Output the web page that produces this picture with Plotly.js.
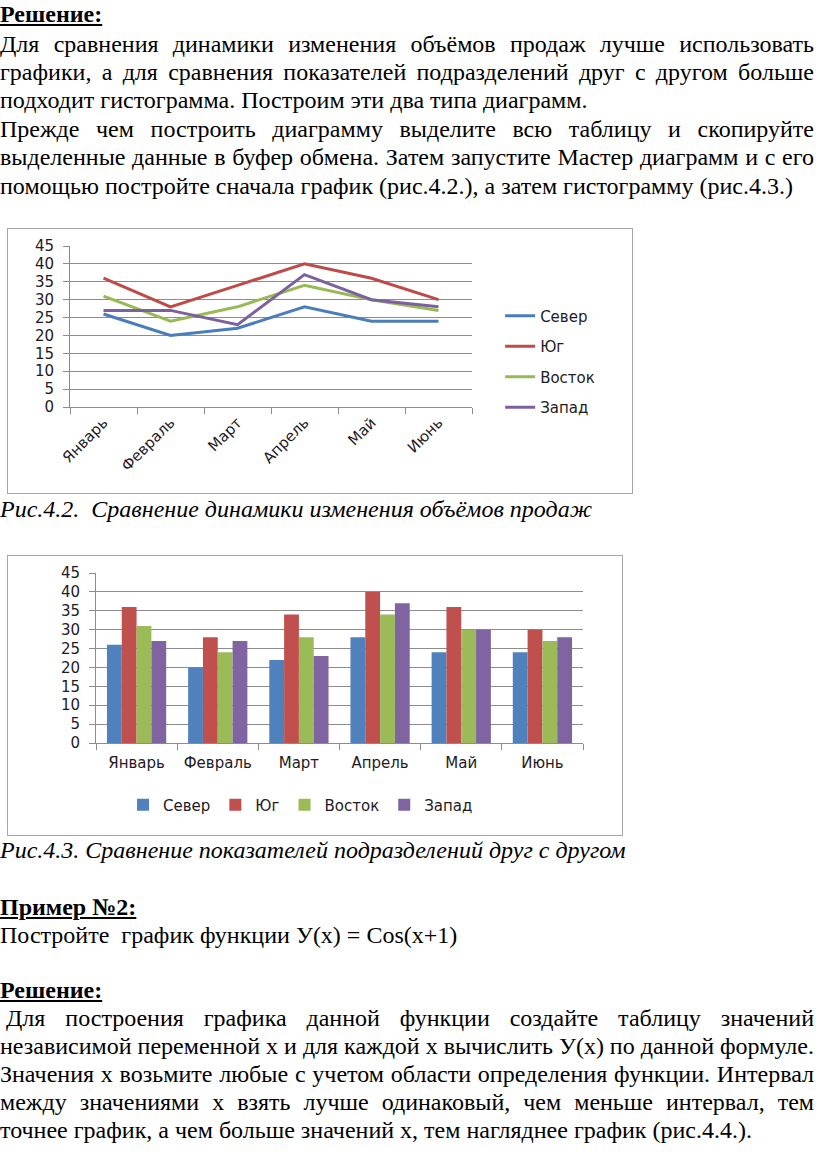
<!DOCTYPE html>
<html>
<head>
<meta charset="utf-8">
<script src="https://cdn.plot.ly/plotly-3.0.1.min.js"></script>
<style>
  html, body { margin: 0; padding: 0; background: #fff; }
  body { width: 816px; height: 1167px; position: relative; overflow: hidden; }
  .ln { position: absolute; left: 0; font-family: "Liberation Serif", "Times New Roman", serif;
        font-size: 24px; line-height: 28px; color: #000; white-space: nowrap; }
  .h { font-weight: bold; text-decoration: underline; }
  .cap { font-style: italic; }
  .frame { position: absolute; border: 1.5px solid #a6a6a6; background: #fff; }
</style>
</head>
<body>
<div id="text"></div>
<div id="chart1" class="frame" style="left:7px; top:228px; width:624px; height:264px;"></div>
<div id="chart2" class="frame" style="left:7px; top:555px; width:614px; height:279px;"></div>
<script>
// ---- chart data ----
const months = ["Январь", "Февраль", "Март", "Апрель", "Май", "Июнь"];
const seriesNames = ["Север", "Юг", "Восток", "Запад"];
const sever  = [26, 20, 22, 28, 24, 24];
const yug    = [36, 28, 34, 40, 36, 30];
const vostok = [31, 24, 28, 34, 30, 27];
const zapad  = [27, 27, 23, 37, 30, 28];
const yTicks = [0, 5, 10, 15, 20, 25, 30, 35, 40, 45];

// ---- page text ----
const lines = [
  {t: "Решение:", top: 0, cls: "h"},
  {t: "Для сравнения динамики изменения объёмов продаж лучше использовать", top: 30, j: true},
  {t: "графики, а для сравнения показателей подразделений друг с другом больше", top: 58, j: true},
  {t: "подходит гистограмма. Построим эти два типа диаграмм.", top: 86},
  {t: "Прежде чем построить диаграмму выделите всю таблицу и скопируйте", top: 115, j: true},
  {t: "выделенные данные в буфер обмена. Затем запустите Мастер диаграмм и с его", top: 143, j: true},
  {t: "помощью постройте сначала график (рис.4.2.), а затем гистограмму (рис.4.3.)", top: 172},
  {t: "Рис.4.2.\u00a0 Сравнение динамики изменения объёмов продаж", top: 495, cls: "cap"},
  {t: "Рис.4.3. Сравнение показателей подразделений друг с другом", top: 836, cls: "cap"},
  {t: "Пример №2:", top: 893, cls: "h"},
  {t: "Постройте\u00a0 график функции У(х) = Cos(x+1)", top: 921},
  {t: "Решение:", top: 976, cls: "h"},
  {t: "Для построения графика данной функции создайте таблицу значений", top: 1004, j: true, indent: 6},
  {t: "независимой переменной х и для каждой х вычислить У(х) по данной формуле.", top: 1032, j: true},
  {t: "Значения х возьмите любые с учетом области определения функции. Интервал", top: 1060, j: true},
  {t: "между значениями х взять лучше одинаковый, чем меньше интервал, тем", top: 1088, j: true},
  {t: "точнее график, а чем больше значений х, тем нагляднее график (рис.4.4.).", top: 1116}
];
const RIGHT = 814;
const textDiv = document.getElementById("text");
lines.forEach(l => {
  const d = document.createElement("div");
  d.className = "ln " + (l.cls || "");
  d.style.top = l.top + "px";
  const left = l.indent || 0;
  d.style.left = left + "px";
  d.textContent = l.t;
  textDiv.appendChild(d);
  if (l.j) {
    const w = d.getBoundingClientRect().width;
    const spaces = (l.t.match(/ /g) || []).length;
    const target = RIGHT - left;
    if (spaces > 0) d.style.wordSpacing = ((target - w) / spaces) + "px";
  }
});

// ---- charts ----
const colors = ["#4A7EBB", "#BE4B48", "#98B954", "#7D60A0"];
const barColors = ["#4F81BD", "#C0504D", "#9BBB59", "#8064A2"];
const data = [sever, yug, vostok, zapad];
const font = {family: "DejaVu Sans, Verdana, sans-serif", size: 15, color: "#1f1a24"};

const yaxis = {
  range: [0, 45], tickvals: yTicks, showgrid: true, gridcolor: "#8c8c8c", gridwidth: 1,
  showline: true, linecolor: "#8c8c8c", linewidth: 1, ticks: "outside", ticklen: 6,
  tickcolor: "#8c8c8c", zeroline: false, fixedrange: true, ticklabelstandoff: 6
};

const lineTraces = data.map((vals, i) => ({
  type: "scatter", mode: "lines", x: months, y: vals, name: seriesNames[i],
  line: {color: colors[i], width: 3}, legendgroup: "g" + i
}));

Plotly.newPlot("chart1", lineTraces, {
  width: 624, height: 264,
  margin: {l: 62, r: 160, t: 17, b: 86},
  paper_bgcolor: "#fff", plot_bgcolor: "#fff",
  font: font, showlegend: true,
  legend: {x: 1.07, xanchor: "left", y: 0.283, yanchor: "middle", traceorder: "grouped",
           tracegroupgap: 8, font: font, bgcolor: "rgba(0,0,0,0)"},
  xaxis: {type: "category", range: [-0.5, 5.5], tickangle: -45, showline: true, linecolor: "#8c8c8c",
          ticks: "outside", tickson: "boundaries", ticklen: 6, tickcolor: "#8c8c8c",
          showgrid: false, fixedrange: true},
  yaxis: yaxis
}, {staticPlot: true, displayModeBar: false});

const barTraces = data.map((vals, i) => ({
  type: "bar", x: months, y: vals, name: seriesNames[i],
  marker: {color: barColors[i]}
}));

Plotly.newPlot("chart2", barTraces, {
  width: 614, height: 279,
  margin: {l: 88, r: 39, t: 17, b: 92},
  paper_bgcolor: "#fff", plot_bgcolor: "#fff",
  font: font, showlegend: true, barmode: "group", bargap: 0.27, bargroupgap: 0,
  legend: {orientation: "h", x: 0.42, xanchor: "center", y: -0.365, yanchor: "middle",
           font: font, bgcolor: "rgba(0,0,0,0)", itemwidth: 30},
  xaxis: {type: "category", tickangle: 0, showline: true, linecolor: "#8c8c8c",
          ticks: "outside", tickson: "boundaries", ticklen: 6, tickcolor: "#8c8c8c",
          showgrid: false, fixedrange: true, ticklabelstandoff: 6},
  yaxis: yaxis
}, {staticPlot: true, displayModeBar: false});
</script>
</body>
</html>
